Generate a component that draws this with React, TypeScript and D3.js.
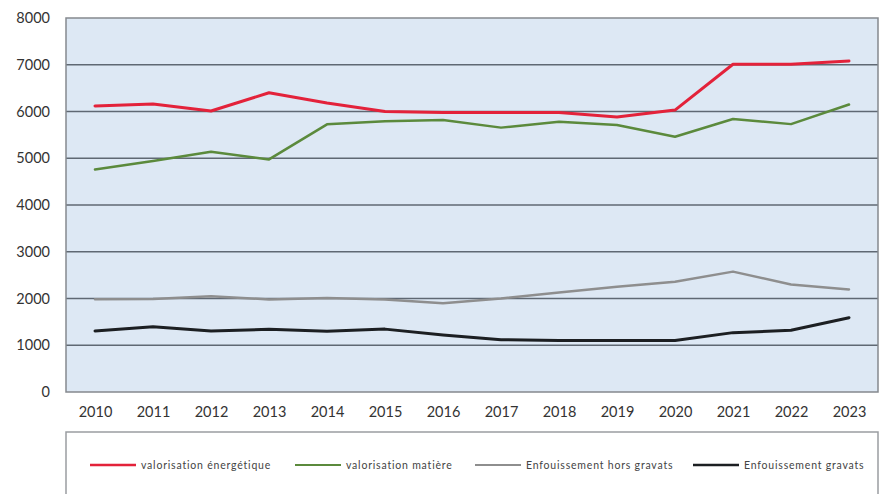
import React, { useEffect, useRef } from "react";
import * as d3 from "d3";

const years = ["2010", "2011", "2012", "2013", "2014", "2015", "2016", "2017", "2018", "2019", "2020", "2021", "2022", "2023"];
const energetique = [6120, 6160, 6010, 6400, 6180, 6000, 5980, 5980, 5980, 5880, 6030, 7010, 7010, 7080];
const matiere = [4760, 4940, 5140, 4975, 5725, 5790, 5820, 5655, 5780, 5710, 5460, 5840, 5730, 6150];
const horsGravats = [1985, 1990, 2050, 1980, 2010, 1980, 1900, 2000, 2130, 2250, 2360, 2575, 2300, 2195];
const gravats = [1305, 1395, 1305, 1340, 1300, 1345, 1220, 1120, 1100, 1100, 1100, 1270, 1320, 1590];
const yTicks = [0, 1000, 2000, 3000, 4000, 5000, 6000, 7000, 8000];

const series = [
  { name: "valorisation énergétique", values: energetique, color: "#e3223a", width: 3 },
  { name: "valorisation matière", values: matiere, color: "#5b8a3c", width: 2.5 },
  { name: "Enfouissement hors gravats", values: horsGravats, color: "#8e8e8e", width: 2.5 },
  { name: "Enfouissement gravats", values: gravats, color: "#1c1f22", width: 3 },
];

const App: React.FC = () => {
  const svgRef = useRef<SVGSVGElement>(null);

  useEffect(() => {
    if (!svgRef.current) return;
    const svg = d3.select(svgRef.current);
    svg.selectAll("*").remove();

    const W = 881;
    const H = 494;
    const plot = { left: 66, right: 878, top: 18, bottom: 392 };

    svg.attr("width", W).attr("height", H);
    svg.append("rect").attr("width", W).attr("height", H).attr("fill", "#ffffff");

    const x = d3
      .scalePoint<string>()
      .domain(years)
      .range([plot.left, plot.right])
      .padding(0.5);

    const y = d3.scaleLinear().domain([0, 8000]).range([plot.bottom, plot.top]);

    // plot background
    svg
      .append("rect")
      .attr("x", plot.left)
      .attr("y", plot.top)
      .attr("width", plot.right - plot.left)
      .attr("height", plot.bottom - plot.top)
      .attr("fill", "#dde8f4");

    // gridlines
    svg
      .append("g")
      .selectAll("line")
      .data(yTicks.filter((t) => t > 0 && t < 8000))
      .enter()
      .append("line")
      .attr("x1", plot.left)
      .attr("x2", plot.right)
      .attr("y1", (d) => y(d))
      .attr("y2", (d) => y(d))
      .attr("stroke", "#5f6873")
      .attr("stroke-width", 1.5);

    // plot border
    svg
      .append("rect")
      .attr("x", plot.left)
      .attr("y", plot.top)
      .attr("width", plot.right - plot.left)
      .attr("height", plot.bottom - plot.top)
      .attr("fill", "none")
      .attr("stroke", "#85898e")
      .attr("stroke-width", 1.5);

    // Y axis
    const yAxis = svg
      .append("g")
      .attr("transform", `translate(${plot.left},0)`)
      .call(d3.axisLeft(y).tickValues(yTicks).tickSize(0).tickPadding(16).tickFormat((d) => String(d)));
    yAxis.select(".domain").remove();
    yAxis
      .selectAll("text")
      .attr("fill", "#333333")
      .style("font-family", "Lato, 'Open Sans', sans-serif")
      .style("font-size", "14.5px");

    // X axis
    const xAxis = svg
      .append("g")
      .attr("transform", `translate(0,${plot.bottom})`)
      .call(d3.axisBottom(x).tickSize(0).tickPadding(15));
    xAxis.select(".domain").remove();
    xAxis
      .selectAll("text")
      .attr("fill", "#333333")
      .style("font-family", "Lato, 'Open Sans', sans-serif")
      .style("font-size", "14.5px");

    // lines
    const line = d3
      .line<number>()
      .x((_, i) => x(years[i]) as number)
      .y((d) => y(d));

    series
      .slice()
      .reverse()
      .forEach((s) => {
        svg
          .append("path")
          .datum(s.values)
          .attr("d", line)
          .attr("fill", "none")
          .attr("stroke", s.color)
          .attr("stroke-width", s.width)
          .attr("stroke-linejoin", "round")
          .attr("stroke-linecap", "round");
      });

    // legend box
    const legendTop = 432;
    svg
      .append("path")
      .attr("d", `M${plot.left},${H + 2}V${legendTop}H${plot.right}V${H + 2}`)
      .attr("fill", "none")
      .attr("stroke", "#9a9da1")
      .attr("stroke-width", 1.5);

    const legendX = [90, 295, 475, 693];
    const legendY = 465;
    const lg = svg.append("g");
    series.forEach((s, i) => {
      lg.append("line")
        .attr("x1", legendX[i])
        .attr("x2", legendX[i] + 46)
        .attr("y1", legendY)
        .attr("y2", legendY)
        .attr("stroke", s.color)
        .attr("stroke-width", s.width - 0.5);
      lg.append("text")
        .attr("x", legendX[i] + 51)
        .attr("y", legendY + 3.5)
        .attr("fill", "#444444")
        .style("font-family", "Lato, 'Open Sans', sans-serif")
        .style("font-size", "10.5px")
        .style("letter-spacing", "0.8px")
        .text(s.name);
    });
  }, []);

  return (
    <div style={{ position: "absolute", left: 0, top: 0 }}>
      <svg ref={svgRef} style={{ display: "block" }}></svg>
    </div>
  );
};

export default App;
